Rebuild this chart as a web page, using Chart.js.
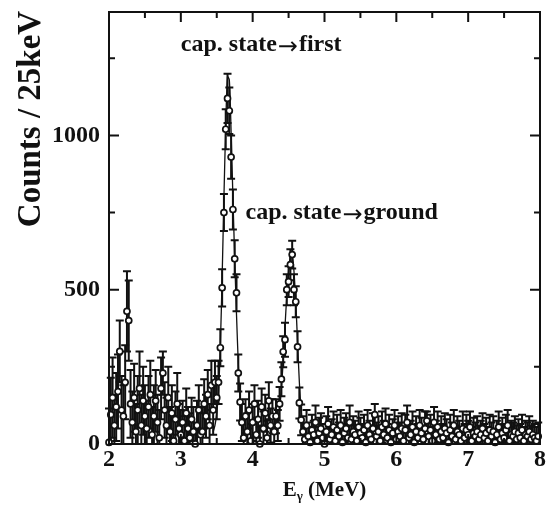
<!DOCTYPE html>
<html>
<head>
<meta charset="utf-8">
<script src="https://cdn.jsdelivr.net/npm/chart.js@4.4.1/dist/chart.umd.min.js"></script>
<style>
  html, body { margin: 0; padding: 0; background: #fff; }
  #wrap { width: 550px; height: 505px; }
</style>
</head>
<body>
<div id="wrap"><canvas id="spectrum" width="550" height="505"></canvas></div>
<script>
// 25 keV bins starting at 2.0 MeV
const binStart = 2.0;
const binWidth = 0.025;

const counts = [
    5, 95, 150, 60, 120, 170, 300, 110, 90, 200, 430, 400, 130, 70, 150, 40, 110, 180, 60, 140,
    90, 50, 120, 160, 30, 90, 140, 70, 20, 180, 230, 110, 60, 150, 40, 100, 10, 80, 130, 50,
    30, 70, 10, 100, 50, 20, 80, 40, 0, 60, 110, 30, 40, 130, 90, 160, 60, 190, 110, 200,
    150, 200, 312, 506, 750, 1020, 1120, 1080, 930, 760, 600, 490, 230, 136,
    70, 20, 90, 40, 110, 10, 70, 130, 30, 80, 0, 120, 50, 100, 20, 140, 60, 90,
    40, 90, 60, 130, 210, 299, 338, 500, 526, 581, 614, 500, 461, 315, 133, 78,
    40, 15, 60, 25, 5, 45, 30, 70, 10, 35,
    50, 20, 0, 40, 65, 15, 30, 55, 10, 45,
    25, 60, 5, 35, 50, 20, 70, 15, 40, 30,
    10, 55, 35, 20, 45, 5, 60, 30, 15, 50,
    95, 25, 40, 10, 55, 30, 65, 20, 45, 5,
    35, 60, 15, 40, 25, 50, 10, 45, 70, 20,
    30, 55, 5, 40, 20, 60, 35, 15, 50, 75,
    25, 45, 10, 70, 30, 55, 15, 40, 20, 50,
    35, 5, 45, 25, 60, 15, 40, 30, 10, 50,
    20, 45, 30, 55, 10, 35, 25, 40, 15, 30,
    50, 20, 35, 10, 45, 25, 40, 5, 30, 55,
    15, 35, 20, 45, 60, 10, 30, 25, 40, 15,
    35, 20, 45, 10, 30, 25, 40, 15, 30, 20, 10, 25
];

const errors = [
    110, 120, 130, 100, 110, 120, 100, 110, 100, 120, 130, 130, 110, 100, 110, 90, 110, 120, 100, 110,
    100, 90, 100, 110, 90, 100, 100, 90, 90, 100, 70, 90, 90, 100, 80, 90, 80, 90, 100, 80,
    80, 70, 80, 80, 70, 80, 70, 80, 70, 80, 80, 70, 80, 80, 70, 80, 70, 80, 80, 70,
    70, 70, 60, 60, 60, 65, 80, 75, 70, 65, 60, 60, 60, 60,
    60, 60, 55, 60, 60, 55, 60, 60, 55, 60, 55, 60, 55, 60, 55, 60, 55, 55,
    50, 55, 50, 55, 55, 50, 55, 50, 50, 50, 45, 50, 50, 50, 50, 50,
    50, 45, 50, 45, 50, 50, 45, 55, 45, 50,
    50, 45, 45, 50, 55, 45, 50, 50, 45, 50,
    45, 50, 45, 50, 50, 45, 55, 45, 50, 45,
    45, 50, 50, 45, 50, 45, 50, 45, 45, 50,
    35, 45, 50, 45, 50, 45, 50, 45, 50, 45,
    45, 50, 45, 50, 45, 50, 45, 50, 55, 45,
    45, 50, 45, 50, 45, 50, 50, 45, 55, 30,
    45, 50, 45, 50, 45, 50, 45, 50, 45, 50,
    45, 45, 50, 45, 50, 45, 50, 45, 45, 55,
    45, 50, 45, 50, 45, 50, 45, 50, 45, 45,
    50, 45, 50, 45, 50, 45, 50, 45, 45, 50,
    45, 50, 45, 50, 50, 45, 45, 45, 50, 45,
    45, 45, 50, 45, 45, 45, 50, 45, 45, 45, 45, 45
];

// fitted line shape over the two peaks
const fit1Start = 3.45;
const fit1 = [40, 60, 100, 170, 320, 540, 800, 1030, 1190, 1180, 1010, 800, 600, 420, 260, 140, 70, 35, 20];
const fit2Start = 4.30;
const fit2 = [30, 45, 70, 110, 180, 270, 380, 480, 560, 610, 615, 560, 460, 330, 200, 110, 55, 30, 20];

const xMajorTicks = [2, 3, 4, 5, 6, 7, 8];
const xMinorTicks = [2.5, 3.5, 4.5, 5.5, 6.5, 7.5];
const yMajorTicks = [0, 500, 1000];
const yMinorTicks = [250, 750, 1250];

const labelNotes = [
    { from: "cap. state", to: "first", x: 3.0, y: 1275 },
    { from: "cap. state", to: "ground", x: 3.9, y: 728 },
];

const SERIF = "'Liberation Serif', 'DejaVu Serif', serif";

const points = counts.map((c, i) => ({ x: binStart + i * binWidth, y: c }));
const fitLine1 = fit1.map((v, i) => ({ x: fit1Start + i * binWidth, y: v }));
const fitLine2 = fit2.map((v, i) => ({ x: fit2Start + i * binWidth, y: v }));

const errorBars = {
    id: "errorBars",
    beforeDatasetsDraw(chart) {
        const { ctx, scales: { x, y }, chartArea } = chart;
        ctx.save();
        ctx.beginPath();
        ctx.rect(chartArea.left - 6, chartArea.top, chartArea.right - chartArea.left + 12, chartArea.bottom - chartArea.top);
        ctx.clip();
        ctx.strokeStyle = "#111";
        ctx.lineWidth = 2;
        points.forEach((p, i) => {
            const px = x.getPixelForValue(p.x);
            const top = y.getPixelForValue(p.y + errors[i]);
            const bot = y.getPixelForValue(Math.max(p.y - errors[i], 0));
            ctx.beginPath();
            ctx.moveTo(px, top);
            ctx.lineTo(px, bot);
            ctx.moveTo(px - 4, top);
            ctx.lineTo(px + 4, top);
            if (p.y - errors[i] > 0) {
                ctx.moveTo(px - 4, bot);
                ctx.lineTo(px + 4, bot);
            }
            ctx.stroke();
        });
        ctx.restore();
    },
};

const frameAndText = {
    id: "frameAndText",
    afterDraw(chart) {
        const { ctx, scales: { x, y }, chartArea: a } = chart;
        ctx.save();
        ctx.strokeStyle = "#111";
        ctx.lineWidth = 2;
        ctx.strokeRect(a.left, a.top, a.right - a.left, a.bottom - a.top);

        const tick = (vals, len, horiz) => {
            vals.forEach((v) => {
                ctx.beginPath();
                if (horiz) {
                    const px = x.getPixelForValue(v);
                    ctx.moveTo(px, a.top); ctx.lineTo(px, a.top + len);
                    ctx.moveTo(px, a.bottom); ctx.lineTo(px, a.bottom - len);
                } else {
                    const py = y.getPixelForValue(v);
                    ctx.moveTo(a.left, py); ctx.lineTo(a.left + len, py);
                    ctx.moveTo(a.right, py); ctx.lineTo(a.right - len, py);
                }
                ctx.stroke();
            });
        };
        tick(xMajorTicks, 10, true);
        tick(xMinorTicks, 6, true);
        tick(yMajorTicks, 10, false);
        tick(yMinorTicks, 6, false);

        ctx.fillStyle = "#111";
        ctx.textBaseline = "alphabetic";
        ctx.textAlign = "left";
        labelNotes.forEach((n) => {
            let tx = x.getPixelForValue(n.x);
            const ty = y.getPixelForValue(n.y);
            ctx.font = "bold 24px " + SERIF;
            ctx.fillText(n.from, tx, ty);
            tx += ctx.measureText(n.from).width + 1;
            // arrow glyph
            ctx.font = "24px 'DejaVu Sans', sans-serif";
            ctx.fillText("\u2192", tx, ty + 3);
            tx += ctx.measureText("\u2192").width + 1;
            ctx.font = "bold 24px " + SERIF;
            ctx.fillText(n.to, tx, ty);
        });

        // y title
        ctx.save();
        ctx.translate(40, 119);
        ctx.rotate(-Math.PI / 2);
        ctx.textAlign = "center";
        ctx.font = "bold 33px " + SERIF;
        ctx.fillText("Counts / 25keV", 0, 0);
        ctx.restore();

        // x title: E with subscript gamma
        const cx = (a.left + a.right) / 2;
        const base = 496;
        ctx.font = "bold 21px " + SERIF;
        const wE = ctx.measureText("E").width;
        const wRest = ctx.measureText(" (MeV)").width;
        ctx.font = "bold 13px " + SERIF;
        const wG = ctx.measureText("\u03b3").width;
        const sx = cx - (wE + wG + wRest) / 2;
        ctx.font = "bold 21px " + SERIF;
        ctx.fillText("E", sx, base);
        ctx.font = "bold 13px " + SERIF;
        ctx.fillText("\u03b3", sx + wE, base + 4);
        ctx.font = "bold 21px " + SERIF;
        ctx.fillText(" (MeV)", sx + wE + wG, base);
        ctx.restore();
    },
};

new Chart(document.getElementById("spectrum"), {
    type: "scatter",
    data: {
        datasets: [
            {
                data: points,
                showLine: false,
                pointRadius: 3,
                pointStyle: "circle",
                backgroundColor: "#fff",
                borderColor: "#111",
                borderWidth: 1.7,
                clip: 8,
                order: 0,
            },
            {
                data: fitLine1,
                showLine: true,
                pointRadius: 0,
                borderColor: "#111",
                borderWidth: 1.3,
                tension: 0.3,
                order: 1,
            },
            {
                data: fitLine2,
                showLine: true,
                pointRadius: 0,
                borderColor: "#111",
                borderWidth: 1.3,
                tension: 0.3,
                order: 1,
            },
        ],
    },
    options: {
        responsive: false,
        animation: false,
        devicePixelRatio: 1,
        layout: { padding: { top: 12, right: 10, left: 0, bottom: 0 } },
        plugins: { legend: { display: false }, tooltip: { enabled: false } },
        scales: {
            x: {
                type: "linear",
                min: 2,
                max: 8,
                grid: { display: false, drawTicks: false },
                border: { display: false },
                afterBuildTicks: (s) => { s.ticks = xMajorTicks.map((v) => ({ value: v })); },
                afterFit: (s) => { s.height = 61; s.paddingLeft = 0; s.paddingRight = 0; },
                ticks: {
                    color: "#111",
                    padding: 1,
                    callback: (v) => String(v),
                    font: { family: SERIF, size: 24, weight: "bold" },
                },
            },
            y: {
                min: 0,
                max: 1400,
                grid: { display: false, drawTicks: false },
                border: { display: false },
                afterBuildTicks: (s) => { s.ticks = yMajorTicks.map((v) => ({ value: v })); },
                afterFit: (s) => { s.width = 109; s.paddingTop = 0; s.paddingBottom = 0; },
                ticks: {
                    color: "#111",
                    padding: 9,
                    callback: (v) => String(v),
                    font: { family: SERIF, size: 24, weight: "bold" },
                },
            },
        },
    },
    plugins: [errorBars, frameAndText],
});
</script>
</body>
</html>
